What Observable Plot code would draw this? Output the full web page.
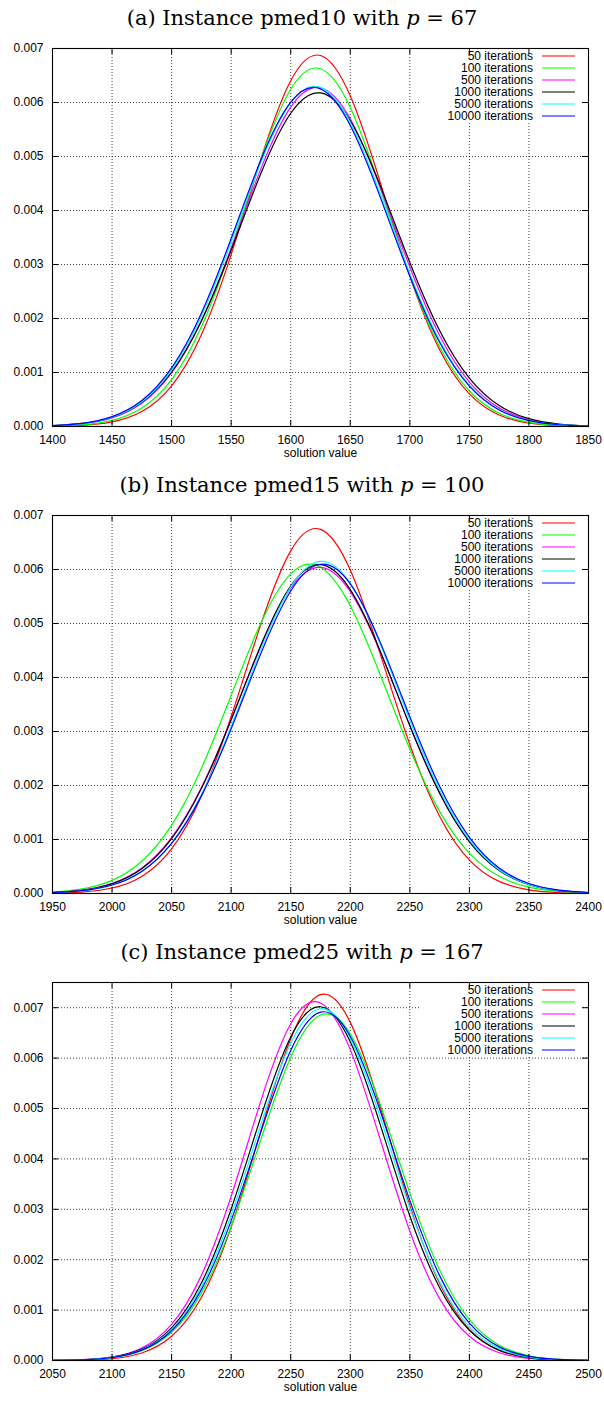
<!DOCTYPE html>
<html>
<head>
<meta charset="utf-8">
<script src="https://cdn.jsdelivr.net/npm/d3@7"></script>
<script src="https://cdn.jsdelivr.net/npm/@observablehq/plot@0.6"></script>
<style>
  html, body { margin: 0; padding: 0; background: #fff; }
  #root { width: 604px; }
  .panel { width: 604px; height: 467px; position: relative; }
  .title { height: 34px; line-height: 36px; text-align: center; font-family: "DejaVu Serif", serif;
           font-size: 21px; color: #000; white-space: nowrap; }
  .title i { font-style: italic; }
  svg { display: block; }
</style>
</head>
<body>
<div id="root"></div>
<script>
// ---------- data (densities in units of 1e-3) ----------
const seriesNames = ["50 iterations", "100 iterations", "500 iterations", "1000 iterations", "5000 iterations", "10000 iterations"];
const seriesColors = ["#ff0000", "#00ff00", "#ff00ff", "#000000", "#00ffff", "#0000ff"];

const titles = [
  ["(a) Instance pmed10 with ", "p", " = 67"],
  ["(b) Instance pmed15 with ", "p", " = 100"],
  ["(c) Instance pmed25 with ", "p", " = 167"]
];
const xLabel = "solution value";

const xA = [1400,1425,1450,1475,1500,1525,1550,1575,1600,1625,1650,1675,1700,1725,1750,1775,1800,1825,1850];
const a50    = [0.0045,0.0213,0.0846,0.277,0.753,1.700,3.184,4.954,6.403,6.871,6.123,4.532,2.785,1.421,0.603,0.212,0.062,0.015,0.003];
const a100   = [0.0075,0.032,0.114,0.344,0.869,1.846,3.297,4.950,6.245,6.625,5.908,4.429,2.791,1.478,0.658,0.246,0.0776,0.0205,0.0046];
const a500   = [0.0139,0.0511,0.160,0.431,0.992,1.956,3.302,4.775,5.915,6.273,5.698,4.433,2.953,1.685,0.823,0.345,0.1235,0.0379,0.0100];
const a1000  = [0.0160,0.0564,0.171,0.448,1.009,1.955,3.264,4.689,5.801,6.177,5.663,4.470,3.037,1.777,0.895,0.388,0.1448,0.0465,0.0129];
const a5000  = [0.0150,0.0548,0.171,0.457,1.044,2.043,3.418,4.893,5.993,6.280,5.631,4.319,2.835,1.592,0.765,0.314,0.1105,0.0333,0.0086];
const a10000 = [0.0164,0.0590,0.182,0.480,1.085,2.099,3.480,4.940,6.005,6.252,5.575,4.257,2.784,1.559,0.748,0.307,0.108,0.0325,0.0084];

const xB = [1950,1975,2000,2025,2050,2075,2100,2125,2150,2175,2200,2225,2250,2275,2300,2325,2350,2375,2400];
const b50    = [0.0061,0.0271,0.1014,0.3164,0.825,1.799,3.277,4.988,6.345,6.744,5.991,4.447,2.758,1.430,0.619,0.2243,0.0678,0.0171,0.0036];
const b100   = [0.0261,0.0858,0.2436,0.597,1.265,2.317,3.666,5.012,5.920,6.043,5.329,4.061,2.674,1.521,0.748,0.318,0.1166,0.0370,0.0101];
const b500   = [0.0191,0.0641,0.187,0.472,1.034,1.961,3.222,4.585,5.653,6.039,5.589,4.481,3.112,1.873,0.976,0.441,0.1726,0.0585,0.0172];
const b1000  = [0.0176,0.0603,0.1787,0.458,1.015,1.943,3.217,4.603,5.695,6.089,5.628,4.497,3.106,1.855,0.957,0.427,0.1647,0.0549,0.0158];
const b5000  = [0.0143,0.0508,0.1556,0.410,0.934,1.832,3.098,4.516,5.676,6.149,5.743,4.625,3.210,1.921,0.991,0.441,0.169,0.0558,0.0159];
const b10000 = [0.0148,0.0517,0.1566,0.409,0.926,1.808,3.050,4.447,5.602,6.097,5.734,4.660,3.272,1.985,1.041,0.471,0.1845,0.0624,0.0182];

const xC = [2050,2075,2100,2125,2150,2175,2200,2225,2250,2275,2300,2325,2350,2375,2400,2425,2450,2475,2500];
const c50    = [0.0013,0.0078,0.0379,0.1496,0.480,1.250,2.650,4.562,6.383,7.259,6.709,5.040,3.077,1.527,0.615,0.2017,0.0537,0.0116,0.0020];
const c100   = [0.0026,0.0133,0.0557,0.1935,0.558,1.336,2.658,4.389,6.019,6.855,6.483,5.092,3.322,1.799,0.809,0.302,0.0938,0.0242,0.0052];
const c500   = [0.0032,0.0166,0.0711,0.2493,0.717,1.689,3.259,5.156,6.680,7.092,6.168,4.396,2.566,1.228,0.481,0.1545,0.0406,0.0088,0.0016];
const c1000  = [0.0029,0.0152,0.0644,0.225,0.648,1.537,3.005,4.839,6.420,7.019,6.322,4.691,2.868,1.445,0.599,0.2049,0.0578,0.0134,0.0026];
const c5000  = [0.0028,0.0145,0.0614,0.2141,0.617,1.469,2.888,4.691,6.295,6.979,6.392,4.837,3.023,1.561,0.666,0.2347,0.0684,0.0164,0.0033];
const c10000 = [0.0028,0.0142,0.0594,0.2057,0.591,1.406,2.775,4.538,6.151,6.911,6.435,4.966,3.177,1.684,0.740,0.270,0.0814,0.0204,0.0042];

// tick values
const xTicksA = [1400,1450,1500,1550,1600,1650,1700,1750,1800,1850];
const xTicksB = [1950,2000,2050,2100,2150,2200,2250,2300,2350,2400];
const xTicksC = [2050,2100,2150,2200,2250,2300,2350,2400,2450,2500];
const yTicks = [0,0.001,0.002,0.003,0.004,0.005,0.006,0.007];
const yMaxA = 0.007, yMaxB = 0.007, yMaxC = 0.0075;

// ---------- drawing ----------
const W = 604, H = 433, MT = 14, MB = 41, ML = 52, MR = 16;
const PW = W - ML - MR, PH = H - MT - MB;
const TICK = 6;

function legendBox() {
  return (index, scales, values, dims) => {
    const right = dims.width - dims.marginRight;
    const top = dims.marginTop;
    const g = d3.create("svg:g");
    g.append("rect").attr("x", right - 168).attr("y", top + 1)
      .attr("width", 163).attr("height", 74).attr("fill", "#fff");
    return g.node();
  };
}
function legendItems() {
  return (index, scales, values, dims) => {
    const right = dims.width - dims.marginRight;
    const top = dims.marginTop;
    const g = d3.create("svg:g")
      .attr("font-family", "'Liberation Sans', Arial, sans-serif").attr("font-size", 12);
    seriesNames.forEach((name, i) => {
      const yy = top + 8 + 12 * i;
      g.append("text").attr("x", right - 55).attr("y", yy).attr("dy", "0.35em")
        .attr("text-anchor", "end").attr("fill", "#000").text(name);
      g.append("line").attr("x1", right - 46).attr("x2", right - 13)
        .attr("y1", yy).attr("y2", yy).attr("stroke", scales.color(name)).attr("stroke-width", 1.2);
    });
    return g.node();
  };
}

function makePanel(title, xs, ys, xTicks, yMax) {
  const rows = [];
  ys.forEach((arr, si) => arr.forEach((v, i) => rows.push({x: xs[i], y: v / 1000, s: seriesNames[si]})));
  const dash = {stroke: "#000", strokeOpacity: 0.75, strokeDasharray: "1,2", strokeWidth: 1};
  const chart = Plot.plot({
    width: W, height: H, marginTop: MT, marginBottom: MB, marginLeft: ML, marginRight: MR,
    style: {fontFamily: "'Liberation Sans', Arial, sans-serif", fontSize: "12px", color: "#000", background: "#fff", overflow: "visible"},
    x: {domain: [xTicks[0], xTicks[xTicks.length - 1]]},
    y: {domain: [0, yMax]},
    color: {domain: seriesNames, range: seriesColors},
    marks: [
      Plot.ruleX(xTicks, dash),
      Plot.ruleY(yTicks, dash),
      legendBox(),
      Plot.line(rows, {x: "x", y: "y", z: "s", stroke: "s", curve: "natural", strokeWidth: 1.2}),
      Plot.ruleX(xTicks, {stroke: "#000", insetTop: PH - TICK}),
      Plot.ruleX(xTicks, {stroke: "#000", insetBottom: PH - TICK}),
      Plot.ruleY(yTicks, {stroke: "#000", insetRight: PW - TICK}),
      Plot.ruleY(yTicks, {stroke: "#000", insetLeft: PW - TICK}),
      Plot.frame({stroke: "#000", strokeWidth: 1.1}),
      Plot.axisX({ticks: xTicks, tickSize: 0, tickPadding: 9, label: null, fontSize: 12, tickFormat: d3.format("d")}),
      Plot.axisY({ticks: yTicks, tickSize: 0, tickPadding: 9, label: null, fontSize: 12, tickFormat: d3.format(".3f")}),
      Plot.text([xLabel], {text: d => d, frameAnchor: "bottom", lineAnchor: "middle", dy: 27, fontSize: 12}),
      legendItems()
    ]
  });
  const panel = document.createElement("div");
  panel.className = "panel";
  const t = document.createElement("div");
  t.className = "title";
  t.append(title[0]);
  const it = document.createElement("i"); it.textContent = title[1];
  t.append(it);
  t.append(title[2]);
  panel.append(t);
  panel.append(chart);
  return panel;
}

const root = document.getElementById("root");
root.append(makePanel(titles[0], xA, [a50, a100, a500, a1000, a5000, a10000], xTicksA, yMaxA));
root.append(makePanel(titles[1], xB, [b50, b100, b500, b1000, b5000, b10000], xTicksB, yMaxB));
root.append(makePanel(titles[2], xC, [c50, c100, c500, c1000, c5000, c10000], xTicksC, yMaxC));
</script>
</body>
</html>
